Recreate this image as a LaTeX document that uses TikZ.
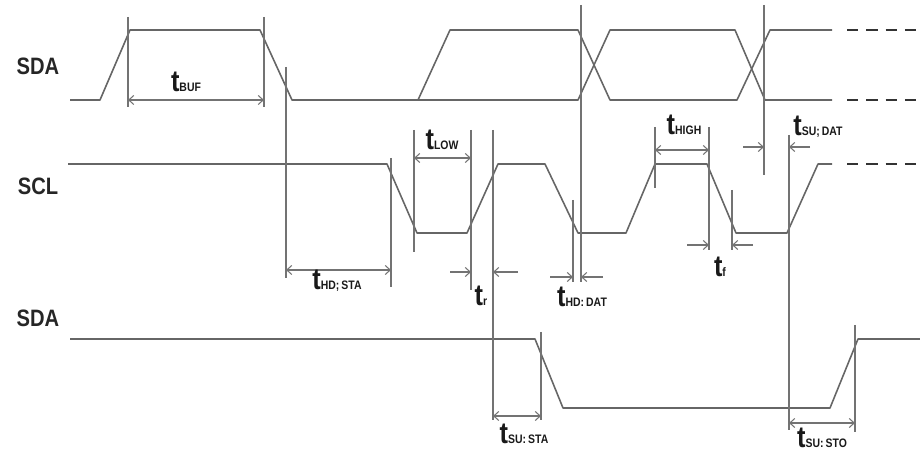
\documentclass[tikz,border=0pt]{standalone}
\usepackage{fontspec}
\setmainfont{Liberation Sans}[FakeStretch=0.85]
\usepackage{tikz}
\usetikzlibrary{arrows.meta}

\newcommand{\timelbl}[1]{{\fontsize{17}{17}\selectfont\bfseries t}{\fontsize{7}{7}\selectfont\bfseries #1}}

\begin{document}
\begin{tikzpicture}[
        x=0.02cm, y=-0.02cm,
        signal/.style={
            draw=black!60,
            line width=0.9pt,
            line join=round
        },
        future/.style={
            draw=black!80,
            line width=1.6pt,
            dash pattern=on 6.5pt off 4.5pt
        },
        guide/.style={
            draw=black!55,
            line width=0.6pt
        },
        dim/.style={
            guide,
            {Straight Barb[length=1mm,width=1.8mm]}-{Straight Barb[length=1mm,width=1.8mm]}
        },
        lead/.style={
            guide,
            -{Straight Barb[length=1mm,width=1.8mm]}
        },
        signame/.style={
            font=\fontsize{13.5}{13.5}\selectfont\bfseries,
            text=black!85
        },
        tlabel/.style={
            inner sep=0pt,
            text=black!90
        }
    ]
        \useasboundingbox (0,0) rectangle (920,452);

        % signal names
        \node (sda) [signame] at (38,66) {SDA};
        \node (scl) [signame] at (38,186) {SCL};
        \node (sdb) [signame] at (38,318) {SDA};

        % upper SDA
        \draw [signal] (70,100) -- (100,100) -- (130,30) -- (260,30) -- (292,100) -- (578,100)
            -- (610,30) -- (735,30) -- (765,100) -- (832,100);
        \draw [signal] (418,100) -- (450,30) -- (578,30) -- (610,100) -- (737,100) -- (770,30) -- (832,30);
        \draw [future] (847,30) -- (920,30);
        \draw [future] (847,100) -- (920,100);

        % SCL
        \draw [signal] (68,164) -- (387,164) -- (417,233) -- (467,233) -- (498,164) -- (545,164)
            -- (578,233) -- (626,233) -- (655,164) -- (707,164) -- (736,233) -- (787,233)
            -- (818,164) -- (832,164);
        \draw [future] (847,164) -- (920,164);

        % lower SDA
        \draw [signal] (70,339) -- (535,339) -- (563,408) -- (830,408) -- (858,339) -- (920,339);

        % guide lines
        \draw [guide] (128,17) -- (128,107);
        \draw [guide] (264,17) -- (264,107);
        \draw [guide] (286,67) -- (286,278);
        \draw [guide] (391,158) -- (391,287);
        \draw [guide] (414,130) -- (414,252);
        \draw [guide] (471,130) -- (471,290);
        \draw [guide] (493,130) -- (493,420);
        \draw [guide] (573,200) -- (573,282);
        \draw [guide] (581,5) -- (581,282);
        \draw [guide] (655,127) -- (655,188);
        \draw [guide] (709,127) -- (709,250);
        \draw [guide] (732,190) -- (732,250);
        \draw [guide] (764,5) -- (764,175);
        \draw [guide] (789,135) -- (789,430);
        \draw [guide] (541,332) -- (541,420);
        \draw [guide] (855,325) -- (855,432);

        % timings
        \draw [dim] (128,100) -- (264,100);
        \node (tbuf) [tlabel] at (186,82) {\timelbl{BUF}};
        \draw [dim] (286,270) -- (391,270);
        \node (thdsta) [tlabel] at (337,281) {\timelbl{HD;\,STA}};
        \draw [dim] (414,158) -- (471,158);
        \node (tlow) [tlabel] at (442,140) {\timelbl{LOW}};
        \draw [lead] (450,272) -- (471,272);
        \draw [lead] (518,272) -- (493,272);
        \node (tr) [tlabel] at (481,296) {\timelbl{r}};
        \draw [lead] (550,277) -- (573,277);
        \draw [lead] (603,277) -- (581,277);
        \node (thddat) [tlabel] at (582,297) {\timelbl{HD:\,DAT}};
        \draw [dim] (655,150) -- (709,150);
        \node (thigh) [tlabel] at (684,125) {\timelbl{HIGH}};
        \draw [lead] (687,245) -- (709,245);
        \draw [lead] (753,245) -- (732,245);
        \node (tf) [tlabel] at (720,267) {\timelbl{f}};
        \draw [lead] (743,147) -- (764,147);
        \draw [lead] (810,147) -- (789,147);
        \node (tsudat) [tlabel] at (818,127) {\timelbl{SU;\,DAT}};
        \draw [dim] (493,416) -- (541,416);
        \node (tsusta) [tlabel] at (524,434) {\timelbl{SU:\,STA}};
        \draw [dim] (789,423) -- (855,423);
        \node (tsusto) [tlabel] at (822,438) {\timelbl{SU:\,STO}};

    \end{tikzpicture}
\end{document}
